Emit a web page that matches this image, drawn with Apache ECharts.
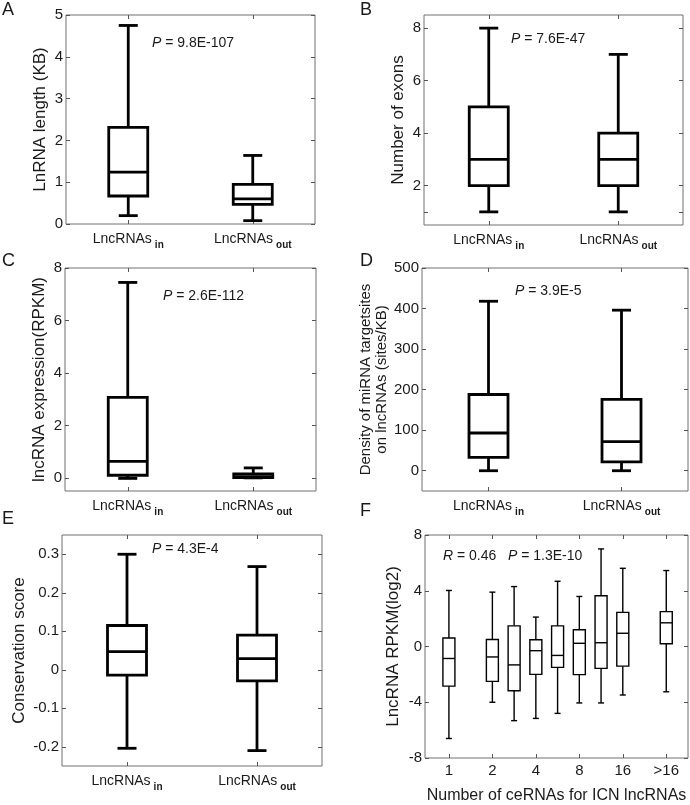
<!DOCTYPE html>
<html>
<head>
<meta charset="utf-8">
<script src="https://cdn.jsdelivr.net/npm/echarts@6/dist/echarts.min.js"></script>
<style>html,body{margin:0;padding:0;background:#fff}#c{width:690px;height:805px}</style>
</head>
<body>
<div id="c"></div>
<script>
// ---------------- DATA ----------------
const groupMain = 'LncRNAs';
const groupSubs = ['in', 'out'];
// [low whisker, Q1, median, Q3, high whisker]
const aIn = [0.2, 0.67, 1.24, 2.31, 4.75];
const aOut = [0.08, 0.47, 0.60, 0.95, 1.64];
const bIn = [1, 2, 3, 5, 8];
const bOut = [1, 2, 3, 4, 7];
const cIn = [-0.02, 0.1, 0.63, 3.07, 7.45];
const cOut = [0, 0.01, 0.05, 0.15, 0.38];
const dIn = [0, 33, 93, 188, 418];
const dOut = [0, 22, 72, 176, 396];
const eIn = [-0.204, -0.014, 0.047, 0.115, 0.30];
const eOut = [-0.21, -0.029, 0.029, 0.09, 0.268];
const fPositions = [0, 1, 1.5, 2, 2.5, 3, 3.5, 4, 5];
const fStats = [
  [-6.6, -2.84, -0.86, 0.61, 4.02],
  [-4.0, -2.5, -0.75, 0.5, 3.9],
  [-5.32, -3.18, -1.32, 1.48, 4.3],
  [-5.16, -2.0, -0.3, 0.48, 2.11],
  [-4.8, -1.5, -0.64, 1.48, 4.68],
  [-4.05, -2.02, 0.23, 1.2, 3.59],
  [-4.05, -1.57, 0.27, 3.64, 7.0],
  [-3.48, -1.41, 0.95, 2.45, 5.61],
  [-3.25, 0.2, 1.7, 2.5, 5.45]
];
const fTickPos = [0, 1, 2, 3, 4, 5];
const fTickLabels = ['1', '2', '4', '8', '16', '>16'];
const aTicks = [0, 1, 2, 3, 4, 5];
const bTickLabels = [2, 4, 6, 8];
const bTickMarks = [1, 2, 4, 6, 8];
const cTicks = [0, 2, 4, 6, 8];
const dTicks = [0, 100, 200, 300, 400, 500];
const eTicks = [-0.2, -0.1, 0, 0.1, 0.2, 0.3];
const fTicks = [-8, -4, 0, 4, 8];
const pTexts = ['9.8E-107', '7.6E-47', '2.6E-112', '3.9E-5', '4.3E-4', '1.3E-10'];
const fR = '0.46';
const yNames = ['LnRNA length (KB)', 'Number of exons', 'lncRNA expression(RPKM)',
  'Density of miRNA targetsites\non lncRNAs (sites/KB)', 'Conservation score', 'LncRNA RPKM(log2)'];
const fXName = 'Number of ceRNAs for ICN lncRNAs';
const letters = ['A', 'B', 'C', 'D', 'E', 'F'];

// ---------------- LAYOUT ----------------
const FONT = '"Liberation Sans", Arial, Helvetica, sans-serif';
const TXT = '#1a1a1a';
const FRAME = '#707070';
const panels = [
  {grid: {left: 66, top: 15, width: 249, height: 209}, min: 0, max: 5, labels: aTicks, ticks: aTicks, stats: [aIn, aOut], nameGap: 9},
  {grid: {left: 424, top: 15, width: 259, height: 210}, min: 0.5, max: 8.5, labels: bTickLabels, ticks: bTickMarks, stats: [bIn, bOut], nameGap: 14},
  {grid: {left: 65, top: 268, width: 251, height: 223}, min: -0.5, max: 8, labels: cTicks, ticks: cTicks, stats: [cIn, cOut], nameGap: 9},
  {grid: {left: 422, top: 268, width: 266, height: 223}, min: -50, max: 500, labels: dTicks, ticks: dTicks, stats: [dIn, dOut], nameGap: 30},
  {grid: {left: 62, top: 535, width: 260, height: 231}, min: -0.25, max: 0.35, labels: eTicks, ticks: eTicks, stats: [eIn, eOut], nameGap: 31},
  {grid: {left: 425, top: 535, width: 263, height: 235}, min: -8, max: 8, labels: fTicks, ticks: fTicks, nameGap: 22}
];
const letterPos = [[2, 1], [360, 1], [2, 252], [360, 252], [2, 510], [360, 502]];
const pPos = [[152, 36], [511, 32], [163, 289], [515, 284], [152, 542], [443, 549]];

function boxRender(boxW, capW, lw) {
  return function (params, api) {
    const x = api.value(0);
    const lo = api.coord([x, api.value(1)]);
    const q1 = api.coord([x, api.value(2)]);
    const md = api.coord([x, api.value(3)]);
    const q3 = api.coord([x, api.value(4)]);
    const hi = api.coord([x, api.value(5)]);
    const cx = lo[0];
    const st = {stroke: '#000', lineWidth: lw, fill: null};
    return {type: 'group', children: [
      {type: 'line', shape: {x1: cx, y1: hi[1], x2: cx, y2: q3[1]}, style: st},
      {type: 'line', shape: {x1: cx, y1: q1[1], x2: cx, y2: lo[1]}, style: st},
      {type: 'line', shape: {x1: cx - capW / 2, y1: hi[1], x2: cx + capW / 2, y2: hi[1]}, style: st},
      {type: 'line', shape: {x1: cx - capW / 2, y1: lo[1], x2: cx + capW / 2, y2: lo[1]}, style: st},
      {type: 'rect', shape: {x: cx - boxW / 2, y: q3[1], width: boxW, height: q1[1] - q3[1]}, style: {stroke: '#000', lineWidth: lw, fill: '#fff'}},
      {type: 'line', shape: {x1: cx - boxW / 2, y1: md[1], x2: cx + boxW / 2, y2: md[1]}, style: st}
    ]};
  };
}

const grids = [], xAxes = [], yAxes = [], series = [], titles = [];
const tickStyle = {show: true, inside: true, length: 4, lineStyle: {color: '#555', width: 1}};
const noLine = {show: false, onZero: false};

panels.forEach((p, i) => {
  grids.push(Object.assign({show: true, borderColor: FRAME, borderWidth: 1, backgroundColor: 'transparent', z: 0}, p.grid));
  const isF = i === 5;
  if (!isF) {
    xAxes.push({
      gridIndex: i, type: 'category', data: groupSubs, position: 'bottom', z: 3,
      axisLine: noLine, splitLine: {show: false},
      axisTick: Object.assign({alignWithLabel: true, interval: 0}, tickStyle),
      axisLabel: {
        interval: 0, hideOverlap: false,
        margin: 8, color: TXT,
        formatter: v => '{a|' + groupMain + '}{b|' + v + '}',
        rich: {
          a: {fontSize: 14, fontFamily: FONT, color: TXT, lineHeight: 16, verticalAlign: 'top'},
          b: {fontSize: 10, fontWeight: 'bold', fontFamily: FONT, color: TXT, lineHeight: 10, verticalAlign: 'top', padding: [8, 0, 0, 3]}
        }
      }
    });
    xAxes.push({gridIndex: i, type: 'category', data: groupSubs, position: 'top', z: 3,
      axisLine: noLine, splitLine: {show: false}, axisLabel: {show: false, interval: 0},
      axisTick: Object.assign({alignWithLabel: true, interval: 0}, tickStyle)});
    series.push({
      type: 'custom', xAxisIndex: xAxes.length - 2, yAxisIndex: yAxes.length,
      renderItem: boxRender(39, 19, 2.8),
      encode: {x: 0, y: [1, 2, 3, 4, 5]},
      data: p.stats.map((s, k) => [groupSubs[k]].concat(s)),
      silent: true, z: 5
    });
  } else {
    xAxes.push({gridIndex: i, type: 'value', min: -0.55, max: 5.5, position: 'bottom', z: 3,
      axisLine: noLine, splitLine: {show: false},
      axisTick: Object.assign({customValues: fTickPos}, tickStyle),
      axisLabel: {customValues: fTickPos, formatter: v => fTickLabels[Math.round(v)], fontSize: 15, color: TXT, fontFamily: FONT, margin: 5},
      name: fXName, nameLocation: 'middle', nameGap: 30,
      nameTextStyle: {fontSize: 16, color: TXT, fontFamily: FONT}});
    xAxes.push({gridIndex: i, type: 'value', min: -0.55, max: 5.5, position: 'top', z: 3,
      axisLine: noLine, splitLine: {show: false}, axisLabel: {show: false},
      axisTick: Object.assign({customValues: fTickPos}, tickStyle)});
    series.push({
      type: 'custom', xAxisIndex: xAxes.length - 2, yAxisIndex: yAxes.length,
      renderItem: boxRender(12, 6, 1.4),
      encode: {x: 0, y: [1, 2, 3, 4, 5]},
      data: fStats.map((s, k) => [fPositions[k]].concat(s)),
      silent: true, z: 5
    });
  }
  yAxes.push({gridIndex: i, type: 'value', min: p.min, max: p.max, position: 'left', z: 3,
    axisLine: noLine, splitLine: {show: false},
    axisTick: Object.assign({customValues: p.ticks}, tickStyle),
    axisLabel: {customValues: p.labels, fontSize: 15, color: TXT, fontFamily: FONT, margin: 3},
    name: yNames[i], nameLocation: 'middle', nameRotate: 90, nameGap: p.nameGap,
    nameTextStyle: {fontSize: i === 3 ? 15 : 17, lineHeight: i === 3 ? 16 : 20, color: TXT, fontFamily: FONT}});
  yAxes.push({gridIndex: i, type: 'value', min: p.min, max: p.max, position: 'right', z: 3,
    axisLine: noLine, splitLine: {show: false}, axisLabel: {show: false},
    axisTick: Object.assign({customValues: p.ticks}, tickStyle)});

  titles.push({text: letters[i], left: letterPos[i][0], top: letterPos[i][1], padding: 0,
    textStyle: {fontSize: 18, fontWeight: 'normal', color: TXT, fontFamily: FONT}});
  const ptxt = isF ? '{i|R} = ' + fR + '   {i|P} = ' + pTexts[i] : '{i|P} = ' + pTexts[i];
  titles.push({text: ptxt, left: pPos[i][0], top: pPos[i][1], padding: 0,
    textStyle: {fontSize: 14, fontWeight: 'normal', color: TXT, fontFamily: FONT,
      rich: {i: {fontSize: 14, fontStyle: 'italic', color: TXT, fontFamily: FONT}}}});
});

const chart = echarts.init(document.getElementById('c'), null, {renderer: 'canvas'});
chart.setOption({
  animation: false,
  backgroundColor: '#fff',
  textStyle: {fontFamily: FONT},
  title: titles,
  grid: grids,
  xAxis: xAxes,
  yAxis: yAxes,
  series: series
});
</script>
</body>
</html>
